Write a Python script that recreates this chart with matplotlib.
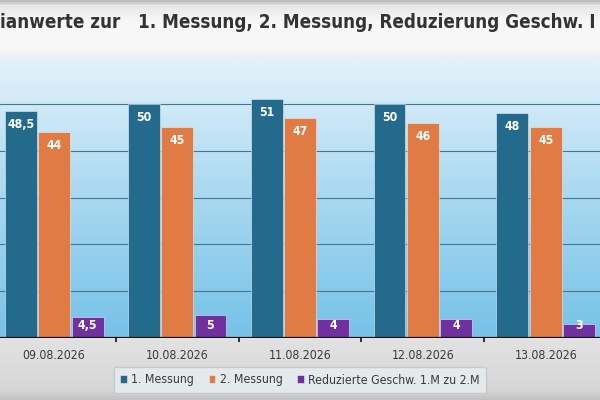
import numpy as np
import matplotlib
matplotlib.use("Agg")
import matplotlib.pyplot as plt
from matplotlib import font_manager as fm
from matplotlib.colors import LinearSegmentedColormap

# data
dates = ["09.08.2026", "10.08.2026", "11.08.2026", "12.08.2026", "13.08.2026"]
messung1 = [48.5, 50, 51, 50, 48]
messung2 = [44, 45, 47, 46, 45]
reduziert = [4.5, 5, 4, 4, 3]
names = ["1. Messung", "2. Messung", "Reduzierte Geschw. 1.M zu 2.M"]
title = "ianwerte zur   1. Messung, 2. Messung, Reduzierung Geschw. I"

colors = ["#236a8c", "#e07b45", "#7030a0"]


def find_font(bold):
    # look for a narrow / condensed face, like the Bahnschrift of the original
    cands = []
    for f in fm.fontManager.ttflist:
        fn = f.fname.lower()
        if "narrow" in fn or "condensed" in fn:
            isbold = "bold" in fn
            if isbold == bold and "oblique" not in fn and "italic" not in fn:
                cands.append(f.fname)
    cands.sort(key=lambda p: (0 if "dejavu" in p.lower() else 1, p))
    if cands:
        return fm.FontProperties(fname=cands[0])
    return fm.FontProperties(family="DejaVu Sans", weight="bold" if bold else "normal")


fp_reg = find_font(False)
fp_bold = find_font(True)

fig = plt.figure(figsize=(6, 4), dpi=100)
fig.patch.set_facecolor("#dddddd")

# background bands (bottom of figure -> top)
bg = fig.add_axes([0, 0, 1, 1], zorder=-10)
bg.set_axis_off()
band = np.linspace(0, 1, 400).reshape(-1, 1)
bg_cmap = LinearSegmentedColormap.from_list(
    "bg", [(0, "#c4c4c4"), (0.02, "#d6d6d6"), (0.15, "#e2e2e2"),
           (0.85, "#ececec"), (0.88, "#f6f6f6"), (0.95, "#f8f8f8"),
           (0.99, "#e6e6e6"), (1, "#bdbdbd")])
bg.imshow(band, aspect="auto", cmap=bg_cmap, extent=[0, 1, 0, 1], origin="lower")
bg.set_xlim(0, 1)
bg.set_ylim(0, 1)

ax = fig.add_axes([0, 62 / 400, 1, 281 / 400])
x = np.arange(len(dates))
ax.set_xlim(-0.44, 4.44)
ax.set_ylim(0, 60)

plot_cmap = LinearSegmentedColormap.from_list("pl", ["#76c2e8", "#a8d8f0", "#e4f2fb"])
ax.imshow(band, aspect="auto", cmap=plot_cmap, extent=[-0.44, 4.44, 0, 60],
          origin="lower", zorder=0)

for y in [10, 20, 30, 40, 50]:
    ax.axhline(y, color="#44778f", lw=0.8, zorder=1)

# pixels per data unit, for placing labels like Excel's "inside end"
ppu = 281 / 60
w = 0.26
step = 0.272
for i, (vals, c) in enumerate(zip([messung1, messung2, reduziert], colors)):
    bars = ax.bar(x + (i - 1) * step, vals, width=w, color=c, edgecolor="#e8eef2",
                  linewidth=0.4, label=names[i], zorder=2)
    for b, v in zip(bars, vals):
        txt = f"{v:g}".replace(".", ",")
        ypos = max(v - 13.5 / ppu, 12.5 / ppu)
        ax.text(b.get_x() + b.get_width() / 2, ypos, txt, ha="center", va="center",
                color="white", fontproperties=fp_bold, fontsize=8.8, zorder=3)

ax.axhline(0, color="#111111", lw=1.6, zorder=4)
for s in ax.spines.values():
    s.set_visible(False)
ax.set_yticks([])
ax.set_xticks(x)
ax.set_xticklabels(dates, color="#3a3a3a", fontproperties=fp_reg, fontsize=8.8)
ax.tick_params(axis="x", length=0, pad=8)
ax.set_xticks(x[:-1] + 0.5, minor=True)
ax.tick_params(axis="x", which="minor", length=3, width=1.2, color="#111111", direction="out")

leg_fp = fp_reg.copy()
leg_fp.set_size(8.8)
leg = fig.legend(loc="center", bbox_to_anchor=(0.5, 20 / 400), ncol=3, prop=leg_fp,
                 frameon=True, fancybox=False, handlelength=0.55, handleheight=0.55,
                 handletextpad=0.35, columnspacing=1.2, borderpad=0.55)
leg.get_frame().set_facecolor("#eaeef0")
leg.get_frame().set_edgecolor("#b9c7cf")
for t in leg.get_texts():
    t.set_color("#3a3a3a")

# title: fit size so that the visible text spans the figure width like the reference
fig.canvas.draw()
r = fig.canvas.get_renderer()
size = 18
probe = fig.text(0, 0, title, fontproperties=fp_bold, fontsize=size)
tw = probe.get_window_extent(r).width
probe.remove()
size = min(size, size * 597 / tw)
fig.text(0, 1 - 23 / 400, title, fontproperties=fp_bold, fontsize=size,
         color="#333333", ha="left", va="center")

fig.savefig("out.png", dpi=100, facecolor=fig.get_facecolor())
